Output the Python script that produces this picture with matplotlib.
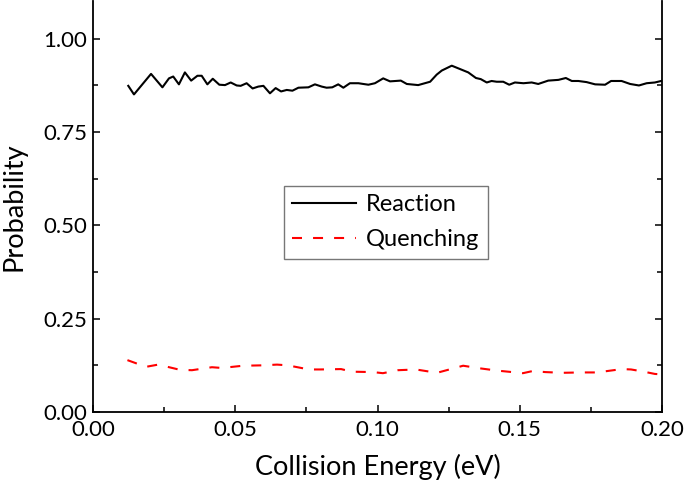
import matplotlib
matplotlib.use("Agg")
import matplotlib.pyplot as plt
from matplotlib.ticker import MultipleLocator, FormatStrFormatter

# Reaction probability vs collision energy (eV)
reaction_E = [0.0124, 0.0144, 0.0204, 0.0244, 0.0267, 0.0282, 0.0302, 0.0323, 0.0345,
              0.0367, 0.0382, 0.0402, 0.0421, 0.0444, 0.0464, 0.0484, 0.0505, 0.0519,
              0.0540, 0.0561, 0.0581, 0.0599, 0.0622, 0.0642, 0.0661, 0.0681, 0.0701,
              0.0722, 0.0757, 0.0780, 0.0804, 0.0821, 0.0841, 0.0862, 0.0880, 0.0903,
              0.0933, 0.0950, 0.0968, 0.0991, 0.1020, 0.1044, 0.1082, 0.1103, 0.1143,
              0.1185, 0.1208, 0.1226, 0.1261, 0.1319, 0.1346, 0.1363, 0.1384, 0.1401,
              0.1419, 0.1442, 0.1463, 0.1483, 0.1513, 0.1542, 0.1565, 0.1600, 0.1636,
              0.1662, 0.1683, 0.1706, 0.1735, 0.1765, 0.1800, 0.1821, 0.1858, 0.1888,
              0.1919, 0.1946, 0.1975, 0.1997]
reaction_P = [0.874, 0.851, 0.906, 0.870, 0.894, 0.899, 0.878, 0.910, 0.888,
              0.901, 0.901, 0.878, 0.893, 0.877, 0.876, 0.883, 0.875, 0.874,
              0.881, 0.867, 0.872, 0.874, 0.854, 0.868, 0.859, 0.863, 0.861,
              0.869, 0.870, 0.878, 0.872, 0.869, 0.870, 0.878, 0.869, 0.881,
              0.881, 0.879, 0.877, 0.881, 0.894, 0.886, 0.888, 0.879, 0.876,
              0.885, 0.904, 0.915, 0.928, 0.910, 0.895, 0.892, 0.883, 0.887,
              0.885, 0.885, 0.877, 0.883, 0.881, 0.883, 0.879, 0.888, 0.890,
              0.895, 0.887, 0.887, 0.884, 0.878, 0.877, 0.887, 0.887, 0.879,
              0.875, 0.881, 0.883, 0.887]

# Quenching probability vs collision energy (eV)
quench_E = [0.0121, 0.0186, 0.0229, 0.0306, 0.0348, 0.0418, 0.0453, 0.0527, 0.0594,
            0.0647, 0.0685, 0.0759, 0.0798, 0.0872, 0.0910, 0.0984, 0.1019, 0.1072,
            0.1135, 0.1209, 0.1301, 0.1360, 0.1420, 0.1473, 0.1511, 0.1547, 0.1589,
            0.1649, 0.1712, 0.1772, 0.1810, 0.1859, 0.1891, 0.1930, 0.1975, 0.1995]
quench_P = [0.139, 0.121, 0.127, 0.113, 0.112, 0.120, 0.118, 0.124, 0.125,
            0.127, 0.125, 0.114, 0.114, 0.115, 0.108, 0.107, 0.104, 0.112,
            0.114, 0.105, 0.124, 0.117, 0.111, 0.107, 0.104, 0.110, 0.107,
            0.105, 0.106, 0.106, 0.110, 0.115, 0.114, 0.109, 0.102, 0.101]

plt.rcParams['font.family'] = ['Lato', 'DejaVu Sans']
TICK_FS = 16
LABEL_FS = 19.5
LEG_FS = 17

fig = plt.figure(figsize=(6.85, 4.86), dpi=100)
ax = fig.add_axes([93/685, 74/486, 569/685, 410.5/486])

ax.plot(reaction_E, reaction_P, color='black', lw=1.5, label='Reaction')
ax.plot(quench_E, quench_P, color='#ff0000', lw=1.5, ls=(0, (4.8, 5.3)), label='Quenching')

ax.set_xlim(0, 0.2)
ax.set_ylim(0, 1.1)
ax.xaxis.set_major_locator(MultipleLocator(0.05))
ax.xaxis.set_minor_locator(MultipleLocator(0.025))
ax.yaxis.set_major_locator(MultipleLocator(0.25))
ax.yaxis.set_minor_locator(MultipleLocator(0.125))
ax.xaxis.set_major_formatter(FormatStrFormatter('%.2f'))
ax.yaxis.set_major_formatter(FormatStrFormatter('%.2f'))
ax.spines['top'].set_visible(False)
for s in ['left', 'bottom', 'right']:
    ax.spines[s].set_linewidth(1.3)
ax.tick_params(which='both', direction='in', left=True, right=True, bottom=True, top=False,
               labelsize=TICK_FS, width=1.1)
ax.tick_params(which='major', length=5)
ax.tick_params(which='minor', length=3.5)
ax.tick_params(axis='x', which='major', pad=6)
ax.tick_params(axis='y', which='major', pad=4)

ax.set_xlabel('Collision Energy (eV)', fontsize=LABEL_FS, labelpad=10)
ax.set_ylabel('Probability', fontsize=LABEL_FS, labelpad=12)

leg = ax.legend(loc='upper left', bbox_to_anchor=(0.336, 0.551), fontsize=LEG_FS,
                frameon=True, fancybox=False, handlelength=2.7, borderpad=0.35,
                labelspacing=0.6, handletextpad=0.42, borderaxespad=0)
leg.get_frame().set_edgecolor('#555555')
leg.get_frame().set_linewidth(1.0)

fig.savefig('out.png', dpi=100)
